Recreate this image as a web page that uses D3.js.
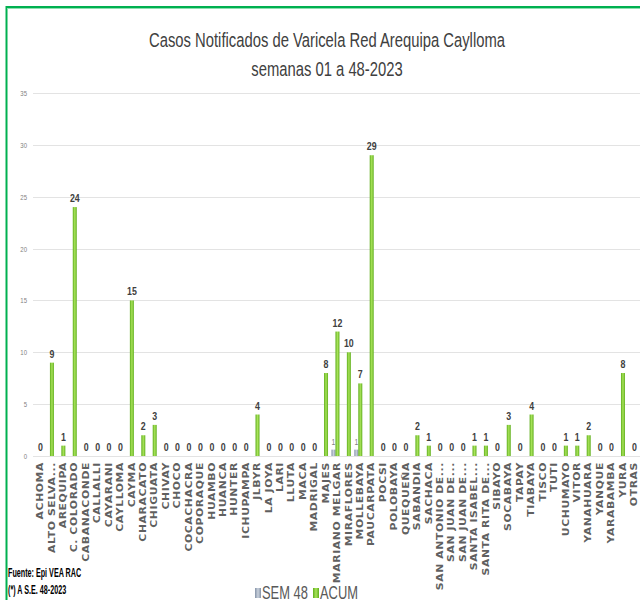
<!DOCTYPE html>
<html><head><meta charset="utf-8">
<script src="https://cdn.jsdelivr.net/npm/d3@7"></script>
<style>body{margin:0;background:#fff;} svg{display:block;}</style>
</head><body>
<script>
const categories = ["ACHOMA","ALTO SELVA...","AREQUIPA","C. COLORADO","CABANACONDE","CALLALLI","CAYARANI","CAYLLOMA","CAYMA","CHARACATO","CHIGUATA","CHIVAY","CHOCO","COCACHACRA","COPORAQUE","HUAMBO","HUANCA","HUNTER","ICHUPAMPA","JLBYR","LA JOYA","LARI","LLUTA","MACA","MADRIGAL","MAJES","MARIANO MELGAR","MIRAFLORES","MOLLEBAYA","PAUCARPATA","POCSI","POLOBAYA","QUEQUEÑA","SABANDIA","SACHACA","SAN ANTONIO DE...","SAN JUAN DE...","SAN JUAN DE...","SANTA ISABEL...","SANTA RITA DE...","SIBAYO","SOCABAYA","TAPAY","TIABAYA","TISCO","TUTI","UCHUMAYO","VITOR","YANAHUARA","YANQUE","YARABAMBA","YURA","OTRAS"];
const sem48 = [0,0,0,0,0,0,0,0,0,0,0,0,0,0,0,0,0,0,0,0,0,0,0,0,0,0,1,0,1,0,0,0,0,0,0,0,0,0,0,0,0,0,0,0,0,0,0,0,0,0,0,0,0];
const acum = [0,9,1,24,0,0,0,0,15,2,3,0,0,0,0,0,0,0,0,4,0,0,0,0,0,8,12,10,7,29,0,0,0,2,1,0,0,0,1,1,0,3,0,4,0,0,1,1,2,0,0,8,0];
const yTicks = [0,5,10,15,20,25,30,35];
const titleLines = ["Casos Notificados de Varicela Red Arequipa Caylloma","semanas 01 a 48-2023"];
const seriesNames = ["SEM 48","ACUM"];
const footer = ["Fuente: Epi VEA RAC","(*) A S.E. 48-2023"];

const W=640,H=600;
const svg=d3.select("body").append("svg").attr("width",W).attr("height",H);
const defs=svg.append("defs");
const gG=defs.append("linearGradient").attr("id","gGreen").attr("x1","0").attr("x2","1").attr("y1","0").attr("y2","0");
gG.append("stop").attr("offset","0").attr("stop-color","#5fae1c");
gG.append("stop").attr("offset","0.5").attr("stop-color","#a8e35a");
gG.append("stop").attr("offset","1").attr("stop-color","#5fae1c");
const gS=defs.append("linearGradient").attr("id","gGray").attr("x1","0").attr("x2","1").attr("y1","0").attr("y2","0");
gS.append("stop").attr("offset","0").attr("stop-color","#8593a8");
gS.append("stop").attr("offset","0.5").attr("stop-color","#c9d1dc");
gS.append("stop").attr("offset","1").attr("stop-color","#8593a8");

// border
svg.append("line").attr("x1",6).attr("x2",W).attr("y1",7).attr("y2",7).attr("stroke","#00b050").attr("stroke-width",2);
svg.append("line").attr("x1",6.5).attr("x2",6.5).attr("y1",6).attr("y2",H).attr("stroke","#00b050").attr("stroke-width",2);
svg.append("line").attr("x1",7).attr("x2",W).attr("y1",8.5).attr("y2",8.5).attr("stroke","#8de0b0").attr("stroke-width",1);

const sans='"Liberation Sans",Arial,sans-serif';
function ntext(g,x,y,sx,txt,opts){
  const t=g.append("text").attr("transform",`translate(${x},${y}) scale(${sx},1)`).attr("font-family",sans).text(txt);
  for(const k in opts) t.attr(k,opts[k]);
  return t;
}
// title
ntext(svg,327,47,0.76,titleLines[0],{"text-anchor":"middle","font-size":19.5,"fill":"#404040"});
ntext(svg,327,76,0.76,titleLines[1],{"text-anchor":"middle","font-size":19.5,"fill":"#404040"});

const x=d3.scaleBand().domain(d3.range(categories.length)).range([34.3,639.6]).padding(0);
const y=d3.scaleLinear().domain([0,35]).range([456,93]);

// grid
const grid=svg.append("g");
grid.selectAll("line").data(yTicks).join("line").attr("x1",33).attr("x2",W).attr("y1",d=>Math.round(y(d))+0.5).attr("y2",d=>Math.round(y(d))+0.5).attr("stroke","#e3e3e3").attr("stroke-width",1);
grid.selectAll("text").data(yTicks).join("text").attr("transform",d=>`translate(27,${y(d)+3}) scale(0.75,1)`).attr("text-anchor","end").attr("font-family",sans).attr("font-size",8).attr("fill","#7f7f7f").text(d=>d);

const cx=i=>x(i)+x.bandwidth()/2;
// bars
svg.append("g").selectAll("rect").data(sem48).join("rect")
 .attr("x",(d,i)=>cx(i)-5.5).attr("width",4).attr("y",d=>y(d)+4).attr("height",d=>Math.max(0,y(0)-y(d)-4)).attr("fill","url(#gGray)").attr("display",d=>d>0?null:"none");
svg.append("g").selectAll("rect").data(acum).join("rect")
 .attr("x",(d,i)=>cx(i)-1.5).attr("width",4).attr("y",d=>y(d)).attr("height",d=>y(0)-y(d)).attr("fill","url(#gGreen)");

// value labels
svg.append("g").selectAll("text").data(acum).join("text")
 .attr("transform",(d,i)=>`translate(${cx(i)+0.5},${y(d)-5}) scale(0.8,1)`).attr("text-anchor","middle").attr("font-family",sans).attr("font-weight","bold").attr("font-size",11).attr("fill","#404040").text(d=>d);
svg.append("g").selectAll("text").data(sem48).join("text")
 .attr("transform",(d,i)=>`translate(${cx(i)-3.5},${y(d)-1}) scale(0.75,1)`).attr("text-anchor","middle").attr("font-family",sans).attr("font-size",9).attr("fill","#7f7f7f").attr("display",d=>d>0?null:"none").text(d=>d);

// x labels
svg.append("g").selectAll("text").data(categories).join("text")
 .attr("transform",(d,i)=>`translate(${cx(i)+3.2},462) rotate(-90) scale(1.23,1)`).attr("text-anchor","end")
 .attr("font-family","DejaVu Sans").attr("font-weight","bold").attr("font-size",8.8).attr("letter-spacing",0.5).attr("fill","#606060").text(d=>d);

// footer
footer.forEach((f,i)=>ntext(svg,8,577+i*17,0.6,f,{"font-weight":"bold","font-size":12,"fill":"#000"}));

// legend
const lg=svg.append("g");
lg.append("rect").attr("x",255).attr("y",588).attr("width",6).attr("height",10).attr("fill","url(#gGray)");
ntext(lg,262,599,0.68,seriesNames[0],{"font-size":19,"fill":"#595959"});
lg.append("rect").attr("x",313).attr("y",588).attr("width",6).attr("height",10).attr("fill","url(#gGreen)");
ntext(lg,320,599,0.68,seriesNames[1],{"font-size":19,"fill":"#595959"});
</script>
</body></html>
